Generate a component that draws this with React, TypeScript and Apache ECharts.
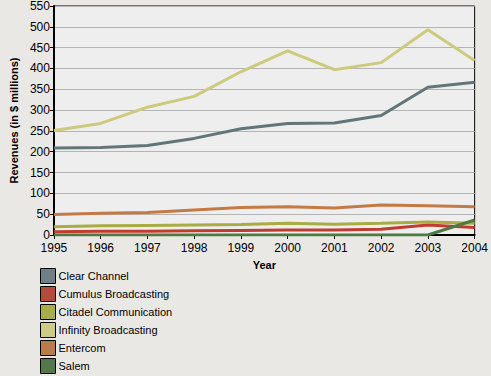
import React, { useEffect, useRef } from "react";
import * as echarts from "echarts";

const years = ["1995", "1996", "1997", "1998", "1999", "2000", "2001", "2002", "2003", "2004"];
const clearChannel = [209, 210, 215, 232, 255, 268, 269, 287, 355, 367];
const cumulus = [8, 9, 9, 10, 11, 12, 12, 14, 24, 18];
const citadel = [20, 22, 23, 24, 25, 28, 26, 28, 31, 28];
const infinity = [251, 268, 307, 333, 392, 442, 397, 414, 493, 419];
const entercom = [49, 52, 54, 60, 66, 68, 65, 72, 70, 68];
const salem = [0, 0, 0, 0, 0, 0, 0, 0, 0, 36];

const seriesNames = [
  "Clear Channel",
  "Cumulus Broadcasting",
  "Citadel Communication",
  "Infinity Broadcasting",
  "Entercom",
  "Salem",
];
const seriesData = [clearChannel, cumulus, citadel, infinity, entercom, salem];
const lineColors = ["#627579", "#c03c2e", "#a8ac42", "#cdca7c", "#c47a45", "#4e7a42"];
const legendColors = ["#6f8187", "#b54a3e", "#a8ad4a", "#cccc84", "#b97a4c", "#55784a"];

export default function App() {
  const ref = useRef<HTMLDivElement>(null);
  useEffect(() => {
    if (!ref.current) return;
    const chart = echarts.init(ref.current, null, { renderer: "svg" });
    const font = "Liberation Sans, Arial, sans-serif";
    chart.setOption({
      animation: false,
      backgroundColor: "#eae8e4",
      textStyle: { fontFamily: font },
      grid: {
        left: 45,
        right: 16,
        top: 5,
        bottom: 141,
        show: true,
        backgroundColor: "#eeeeee",
        borderColor: "#000",
        borderWidth: 1,
      },
      legend: {
        orient: "vertical",
        left: 40,
        top: 268,
        height: 200,
        padding: 0,
        icon: "rect",
        itemWidth: 15,
        itemHeight: 15,
        itemGap: 2,
        textStyle: { fontSize: 11, lineHeight: 15, color: "#000", fontFamily: font, padding: [0, 0, 0, -2] },
        data: seriesNames.map((n, i) => ({
          name: n,
          itemStyle: { color: legendColors[i], borderColor: "#000", borderWidth: 1 },
        })),
      },
      xAxis: {
        type: "category",
        data: years,
        boundaryGap: false,
        name: "Year",
        nameLocation: "middle",
        nameGap: 24,
        nameTextStyle: { fontWeight: "bold", fontSize: 11, color: "#000" },
        axisLine: { lineStyle: { color: "#000", width: 2 } },
        axisTick: { show: true, length: 4, lineStyle: { color: "#000" } },
        axisLabel: { color: "#000", fontSize: 12, margin: 7 },
        splitLine: { show: false },
      },
      yAxis: {
        type: "value",
        min: 0,
        max: 550,
        interval: 50,
        name: "Revenues (in $ millions)",
        nameLocation: "middle",
        nameGap: 34,
        nameTextStyle: { fontWeight: "bold", fontSize: 11, color: "#000" },
        axisLine: { show: true, lineStyle: { color: "#000", width: 2 } },
        axisTick: { show: true, length: 4, lineStyle: { color: "#000" } },
        axisLabel: { color: "#000", fontSize: 12, margin: 4 },
        splitLine: { show: true, lineStyle: { color: "#b4b4b4", width: 1 } },
      },
      series: seriesNames.map((n, i) => ({
        name: n,
        type: "line",
        data: seriesData[i],
        symbol: "none",
        lineStyle: { color: lineColors[i], width: 3 },
        itemStyle: { color: lineColors[i] },
        z: 2,
      })),
    });
    return () => chart.dispose();
  }, []);
  return (
    <div
      ref={ref}
      style={{ position: "fixed", left: 0, top: 0, width: 491, height: 376 }}
    />
  );
}
